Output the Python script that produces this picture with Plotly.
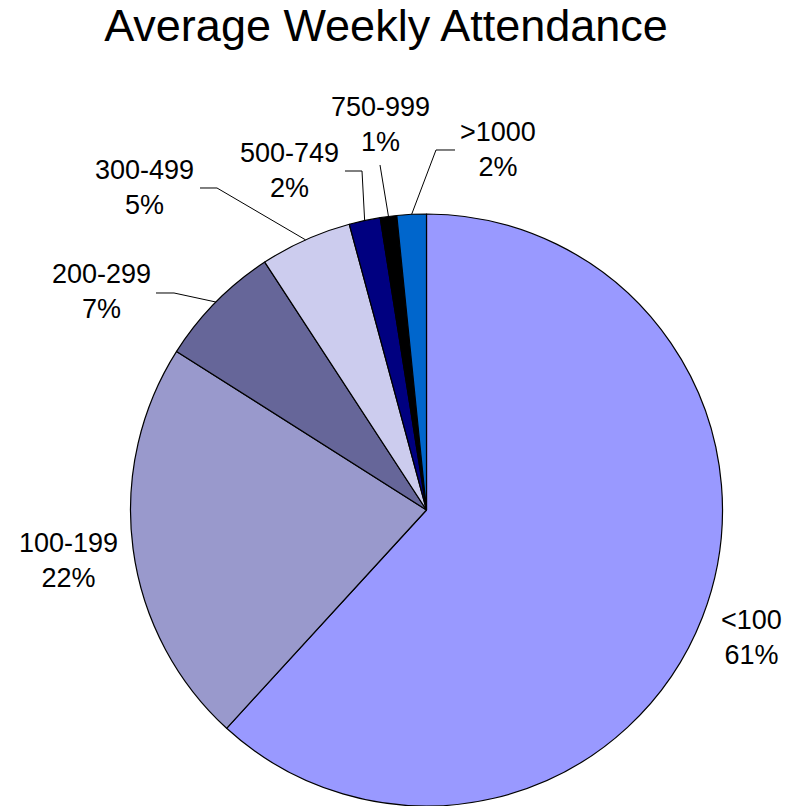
import math
import plotly.graph_objects as go

# ---------------- data ----------------
labels = ["<100", "100-199", "200-299", "300-499", "500-749", "750-999", ">1000"]
values = [61.8, 22.2, 6.8, 5.0, 1.7, 0.9, 1.6]
pct_labels = ["61%", "22%", "7%", "5%", "2%", "1%", "2%"]
colors = ["#9999FF", "#9999CC", "#666699", "#CCCCEE", "#000080", "#000000", "#0066CC"]
title_text = "Average Weekly Attendance"

# ---------------- layout / style (pixels) ----------------
W, H = 801, 806
CX, R = 426.5, 296
CY = H - R
FONT = "Liberation Sans, Arial, sans-serif"
LABEL_SIZE = 27

# label text centres (px)
label_pos = {
    "<100": (751, 637),
    "100-199": (68, 560),
    "200-299": (101, 291),
    "300-499": (144, 187),
    "500-749": (289, 170),
    "750-999": (380, 124),
    ">1000": (498, 150),
}
# leader line points from the label side (the end on the slice edge is computed)
leader_pts = {
    "200-299": [(156, 293), (174, 293)],
    "300-499": [(200, 188), (217, 188)],
    "500-749": [(345, 171), (362, 171)],
    "750-999": [(380, 165)],
    ">1000": [(455, 150), (436, 150)],
}


def px(x, y):
    return x / W, 1 - y / H


fig = go.Figure(
    go.Pie(
        labels=labels,
        values=values,
        sort=False,
        direction="clockwise",
        rotation=0,
        marker=dict(colors=colors, line=dict(color="#000000", width=1.2)),
        textinfo="none",
        hoverinfo="label+percent",
        showlegend=False,
        domain=dict(x=[(CX - R) / W, (CX + R) / W], y=[0, 2 * R / H]),
    )
)

total = sum(values)
cum = 0.0
annotations = []
shapes = []
for lab, val, pct in zip(labels, values, pct_labels):
    frac = val / total
    mid = 2 * math.pi * (cum + frac / 2)
    cum += frac
    ex, ey = CX + R * math.sin(mid), CY - R * math.cos(mid)
    lx, ly = label_pos[lab]
    ax, ay = px(lx, ly)
    annotations.append(
        dict(
            x=ax, y=ay, xref="paper", yref="paper",
            text=f"{lab}<br>{pct}", showarrow=False,
            xanchor="center", yanchor="middle", align="center",
            font=dict(family=FONT, size=LABEL_SIZE, color="#000000"),
        )
    )
    if lab in leader_pts:
        pts = leader_pts[lab] + [(ex, ey)]
        path = "M " + " L ".join(f"{px(x, y)[0]:.5f},{px(x, y)[1]:.5f}" for x, y in pts)
        shapes.append(
            dict(type="path", xref="paper", yref="paper", path=path,
                 line=dict(color="#000000", width=1))
        )

fig.update_layout(
    width=W,
    height=H,
    margin=dict(l=0, r=0, t=0, b=0),
    paper_bgcolor="#FFFFFF",
    plot_bgcolor="#FFFFFF",
    title=dict(
        text=title_text,
        x=386 / W, xanchor="center", xref="paper",
        y=1 - 25 / H, yanchor="middle", yref="container",
        font=dict(family=FONT, size=45, color="#000000"),
    ),
    annotations=annotations,
    shapes=shapes,
)

fig.write_html(
    "out.html",
    config={"displayModeBar": False},
    post_script="document.body.style.margin='0';document.body.style.overflow='hidden';",
)
